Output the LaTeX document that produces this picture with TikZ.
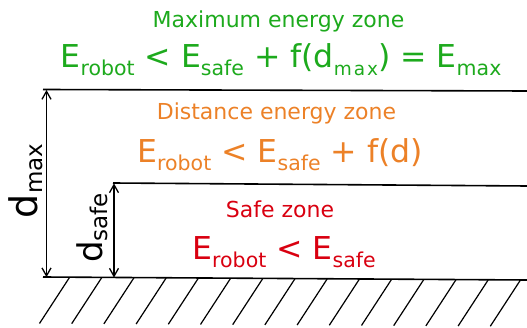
\documentclass[tikz,border=0pt]{standalone}
\usepackage{fontspec}
\setmainfont{DejaVu Sans}
\usepackage{xcolor}
\usetikzlibrary{arrows.meta}
\definecolor{ZoneGreen}{HTML}{1DAA1D}
\definecolor{ZoneOrange}{HTML}{EC8127}
\definecolor{ZoneRed}{HTML}{D90010}
\newcommand{\low}[1]{\raisebox{-8pt}{\fontsize{20.5}{20.5}\selectfont #1}}
\newcommand{\lowspaced}{\raisebox{-8pt}{\fontsize{18.5}{18.5}\selectfont m\kern2pt a\kern2pt x}}
\newcommand{\dimsub}[1]{\raisebox{-5pt}{\fontsize{23}{23}\selectfont #1}}

\begin{document}
\begin{tikzpicture}[x=1pt,y=-1pt,
  zonetitle/.style={font=\fontsize{22}{22}\selectfont,inner sep=0pt,anchor=base},
  zoneeq/.style={font=\fontsize{31.5}{31.5}\selectfont,inner sep=0pt,anchor=base},
  dimlabel/.style={inner sep=0pt,anchor=base,rotate=90},
  level/.style={line width=1.6pt},
  dimarrow/.style={line width=1.3pt,
    {Straight Barb[length=8pt,width=9pt]}-{Straight Barb[length=8pt,width=9pt]}},
  hatch/.style={line width=1.2pt}]
  \useasboundingbox (0,0) rectangle (527,328);

  % levels
  \coordinate (maxL) at (43,89.5);
  \coordinate (maxR) at (527,91);
  \coordinate (safeL) at (113,183);
  \coordinate (safeR) at (527,186);
  \coordinate (groundL) at (43,277);
  \coordinate (groundR) at (527,280);
  \draw[level] (maxL) -- (maxR);
  \draw[level] (safeL) -- (safeR);
  \draw[level] (groundL) -- (groundR);

  % ground hatching
  \foreach \i in {0,...,14}
    \draw[hatch] ({69.5+32.2*\i},{277.3+3*(26.5+32.2*\i)/484}) -- ++(-30,46);

  % distances
  \coordinate (dmaxtop) at (46.5,90);
  \coordinate (dmaxbot) at (46.5,277.2);
  \coordinate (dsafetop) at (114,183.4);
  \coordinate (dsafebot) at (114,277.6);
  \draw[dimarrow] (dmaxtop) -- (dmaxbot);
  \draw[dimarrow] (dsafetop) -- (dsafebot);
  \node[dimlabel,font=\fontsize{38}{38}\selectfont] (dmax) at (37,181) {d\dimsub{max}};
  \node[dimlabel,font=\fontsize{34}{34}\selectfont] (dsafe) at (102,228) {d\dimsub{safe}};

  % zones
  \node[zonetitle,text=ZoneGreen] (maxtitle) at (278.5,28) {Maximum energy zone};
  \node[zoneeq,text=ZoneGreen] (maxeq) at (281,68)
    {E\low{robot} < E\low{safe} + f(d\lowspaced) = E\low{max}};
  \node[zonetitle,text=ZoneOrange] (disttitle) at (276.5,119.3) {Distance energy zone};
  \node[zoneeq,text=ZoneOrange] (disteq) at (280,162.7)
    {E\low{robot} < E\low{safe} + f(d)};
  \node[zonetitle,text=ZoneRed] (safetitle) at (280,217.3) {Safe zone};
  \node[zoneeq,text=ZoneRed] (safeeq) at (284,260)
    {E\low{robot} < E\low{safe}};
\end{tikzpicture}
\end{document}
